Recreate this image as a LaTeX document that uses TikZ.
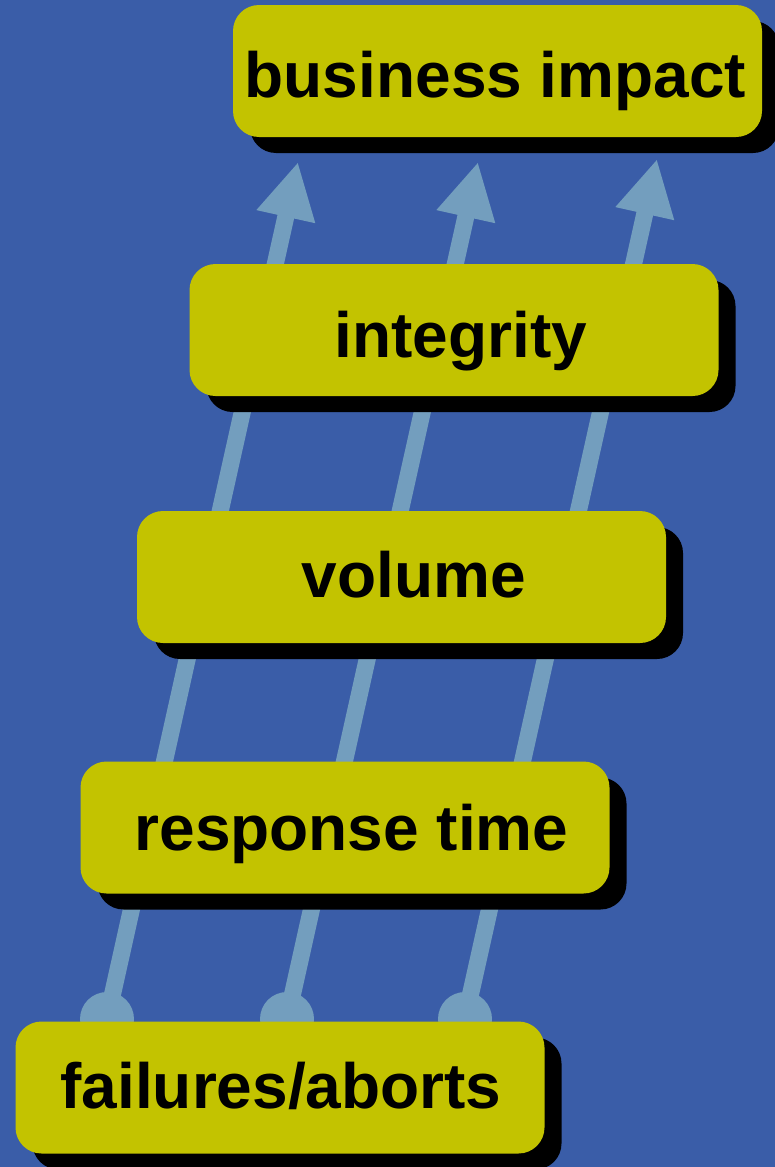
\documentclass[tikz,border=0pt]{standalone}
\usepackage{fontspec}
\setmainfont{Liberation Sans}
\usetikzlibrary{arrows.meta,shadows}
\definecolor{bgblue}{RGB}{58,93,168}
\definecolor{boxyel}{RGB}{195,195,0}
\definecolor{arrowblue}{RGB}{115,158,190}
\begin{document}
\begin{tikzpicture}[x=1pt,y=-1pt,
  levelbox/.style={rectangle, rounded corners=26pt, fill=boxyel, draw=none,
    minimum width=529pt, minimum height=132pt, inner sep=0pt,
    general shadow={fill=black, shadow xshift=17pt, shadow yshift=-16pt}},
  levellabel/.style={anchor=base, inner sep=0pt, font=\fontsize{64}{70}\selectfont\bfseries},
  dotnode/.style={circle, fill=arrowblue, minimum size=54pt, inner sep=0pt},
  conn/.style={draw=arrowblue, line width=17pt, -{Triangle[length=56pt,width=56pt]}, arrowblue}
]
\fill[bgblue] (0,0) rectangle (775,1167);
\useasboundingbox (0,0) rectangle (775,1167);

% connectors (behind boxes)
\node[dotnode] (d1) at (107,1019) {};
\node[dotnode] (d2) at (287,1019) {};
\node[dotnode] (d3) at (465,1019) {};
\coordinate (t1) at (298,162);
\coordinate (t2) at (478,162);
\coordinate (t3) at (657,159);
\draw[conn] (d1.center) -- (t1);
\draw[conn] (d2.center) -- (t2);
\draw[conn] (d3.center) -- (t3);

% boxes
\node[levelbox] (bi) at (497.5,71) {};
\node[levelbox] (in) at (454,330) {};
\node[levelbox] (vo) at (401.5,577) {};
\node[levelbox] (rt) at (345,827.5) {};
\node[levelbox] (fa) at (280,1087.5) {};

% labels
\node[levellabel] (bil) at (495.5,97) {business impact};
\node[levellabel] (inl) at (461,357) {integrity};
\node[levellabel] (vol) at (414,597) {volume};
\node[levellabel] (rtl) at (351.5,850) {response time};
\node[levellabel] (fal) at (281,1108) {failures/aborts};
\end{tikzpicture}
\end{document}
